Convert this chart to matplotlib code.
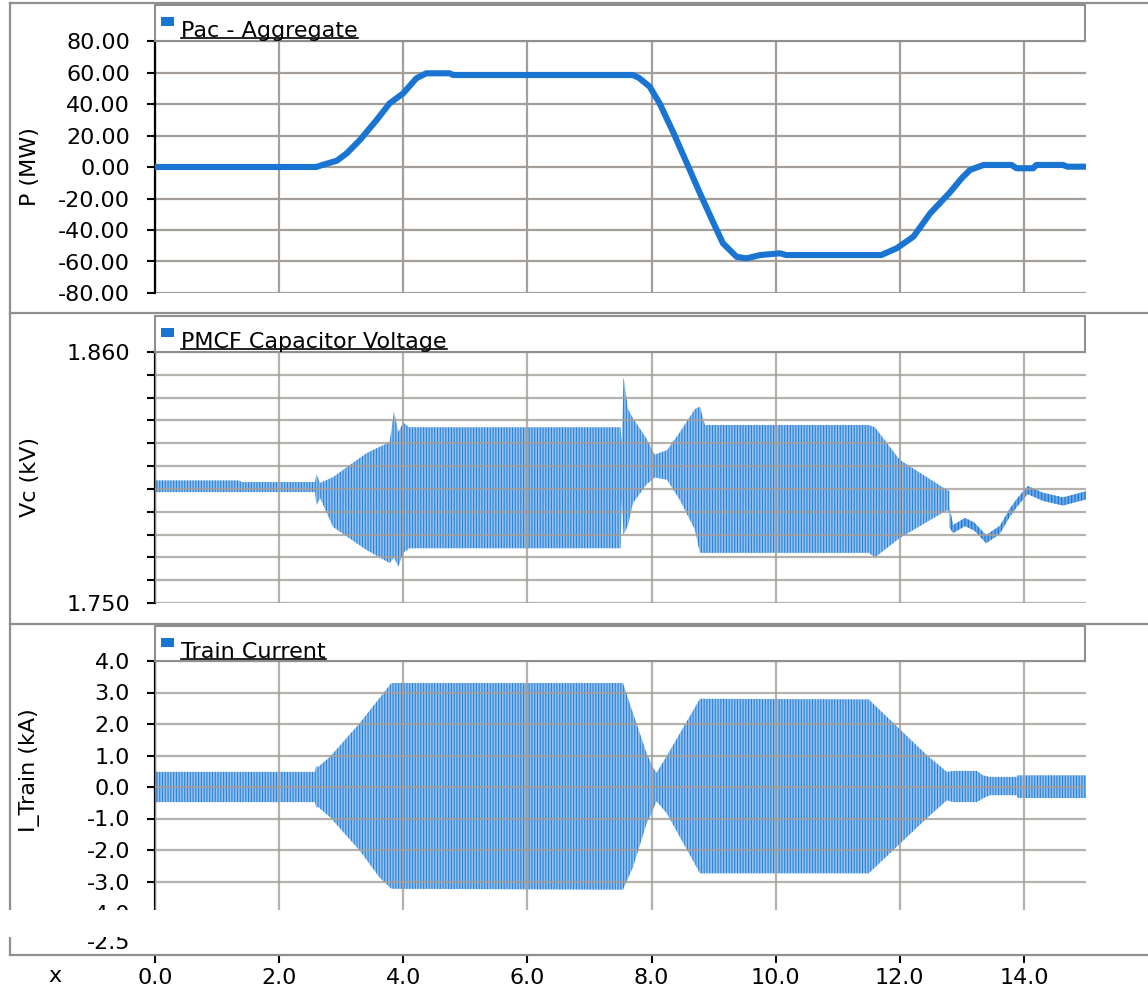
import matplotlib
matplotlib.use("Agg")
import matplotlib.pyplot as plt
from matplotlib.lines import Line2D
from matplotlib.patches import Rectangle

plt.rcParams['font.family'] = ['DejaVu Sans']
plt.rcParams['hatch.linewidth'] = 0.8

# ---------------- data ----------------
pac_t = [0.0, 2.60, 2.68, 2.93, 3.09, 3.30, 3.57, 3.78, 4.00, 4.21, 4.37, 4.75, 4.80,
         7.70, 7.80, 7.97, 8.13, 8.35, 8.57, 8.78, 9.00, 9.15, 9.37, 9.53, 9.75,
         10.07, 10.17, 11.70, 11.95, 12.22, 12.49, 12.81, 13.00, 13.13, 13.35,
         13.80, 13.88, 14.15, 14.20, 14.63, 14.70, 15.0]
pac_p = [0.0, 0.0, 1.1, 4.0, 8.7, 17.1, 29.8, 40.4, 46.8, 56.3, 59.5, 59.5, 58.4,
         58.4, 56.5, 51.0, 40.4, 22.0, 2.3, -16.7, -35.7, -48.4, -57.0, -58.0, -55.9,
         -54.8, -55.9, -55.9, -51.6, -44.2, -29.4, -16.0, -7.0, -1.9, 1.3,
         1.3, -0.8, -0.8, 1.3, 1.3, 0.2, 0.2]

vc_t = [0.0, 1.35, 1.40, 2.58, 2.60, 2.66, 2.87, 3.41, 3.78, 3.85, 3.92, 4.00, 4.10,
        7.50, 7.52, 7.55, 7.62, 7.70, 7.92, 8.05, 8.25, 8.46, 8.70, 8.78, 8.86,
        11.50, 11.60, 12.00, 12.76, 12.80]
vc_hi = [1.8037, 1.8037, 1.8030, 1.8030, 1.8065, 1.8026, 1.8052, 1.8157, 1.8205, 1.8340,
         1.8250, 1.8290, 1.8270, 1.8270, 1.8200, 1.8490, 1.8350, 1.8310, 1.8220, 1.8150,
         1.8170, 1.8250, 1.8350, 1.8360, 1.8280, 1.8280, 1.8270, 1.8127, 1.7995, 1.7990]
vc_lo = [1.7986, 1.7986, 1.7986, 1.7986, 1.7927, 1.7960, 1.7833, 1.7732, 1.7675, 1.7700,
         1.7660, 1.7720, 1.7740, 1.7740, 1.7950, 1.7800, 1.7840, 1.7937, 1.8020, 1.8050,
         1.8040, 1.7950, 1.7820, 1.7720, 1.7720, 1.7720, 1.7700, 1.7785, 1.7907, 1.7900]

vc_tail_t = [12.80, 12.86, 13.05, 13.20, 13.39, 13.61, 13.77, 13.89, 14.06, 14.31, 14.63, 15.0]
vc_tail_hi = [1.7920, 1.7842, 1.7873, 1.7853, 1.7798, 1.7838, 1.7913, 1.7958, 1.8013, 1.7983, 1.7963, 1.7990]
vc_tail_lo = [1.7830, 1.7806, 1.7837, 1.7817, 1.7762, 1.7802, 1.7877, 1.7922, 1.7977, 1.7947, 1.7927, 1.7954]

it_t = [0.0, 2.58, 2.60, 2.62, 2.82, 3.30, 3.62, 3.81, 7.54, 7.70, 7.92, 8.02, 8.08,
        8.25, 8.78, 11.50, 12.43, 12.76, 12.86, 13.24, 13.34, 13.45, 13.88, 13.90, 15.0]
it_hi = [0.48, 0.48, 0.70, 0.62, 0.96, 2.03, 2.83, 3.30, 3.30, 2.35, 1.07, 0.63, 0.45,
         1.00, 2.80, 2.78, 1.02, 0.48, 0.51, 0.51, 0.37, 0.32, 0.32, 0.37, 0.37]
it_lo = [-0.48, -0.48, -0.68, -0.62, -0.96, -2.02, -2.88, -3.23, -3.26, -2.55, -1.16, -0.74, -0.45,
         -0.85, -2.74, -2.74, -1.00, -0.42, -0.48, -0.48, -0.36, -0.26, -0.26, -0.35, -0.35]

x_ticks = [0, 2, 4, 6, 8, 10, 12, 14]
x_labels = ["0.0", "2.0", "4.0", "6.0", "8.0", "10.0", "12.0", "14.0"]
p_ticks = [80, 60, 40, 20, 0, -20, -40, -60, -80]
p_labels = ["80.00", "60.00", "40.00", "20.00", "0.00", "-20.00", "-40.00", "-60.00", "-80.00"]
vc_ticks = [1.75, 1.76, 1.77, 1.78, 1.79, 1.80, 1.81, 1.82, 1.83, 1.84, 1.85, 1.86]
vc_labels = ["1.750", "", "", "", "", "", "", "", "", "", "", "1.860"]
it_ticks = [4, 3, 2, 1, 0, -1, -2, -3, -4]
it_labels = ["4.0", "3.0", "2.0", "1.0", "0.0", "-1.0", "-2.0", "-3.0", "-4.0"]

titles = ["Pac - Aggregate", "PMCF Capacitor Voltage", "Train Current"]
ylabels = ["P (MW)", "Vc (kV)", "I_Train (kA)"]

# ---------------- layout ----------------
W, H = 1148, 996
fig = plt.figure(figsize=(W / 100, H / 100), dpi=100)

def fx(px):
    return px / W

def fy(py):
    return 1 - py / H

LINE_BLUE = '#1a74d2'
FILL_BLUE = '#93c2ef'
HATCH_BLUE = '#2a7fd8'
GRID = '#a39e99'
BOX = '#8f8f8f'
FS = 16
TFS = 16

X0, X1 = 155, 1086
panels = [(41, 293, 5), (352, 603, 316), (661, 913, 626)]
ylab_y = [167, 477, 770]

axes = []
headers = []
for i, (top, bot, htop) in enumerate(panels):
    ax = fig.add_axes([fx(X0), fy(bot), (X1 - X0) / W, (bot - top) / H])
    ax.set_xlim(0, 15)
    ax.set_xticks(x_ticks)
    ax.tick_params(axis='x', length=0, labelbottom=False)
    ax.tick_params(axis='y', direction='out', length=6, width=1.5, color='black',
                   labelsize=FS, pad=12)
    for s in ['top', 'right', 'bottom']:
        ax.spines[s].set_visible(False)
    ax.spines['left'].set_linewidth(1.6)
    ax.spines['left'].set_color('black')
    ax.grid(True, color=GRID, linewidth=1.6)
    axes.append(ax)
    fig.text(fx(30), fy(ylab_y[i]), ylabels[i], rotation=90, ha='center', va='center',
             fontsize=FS)

    hax = fig.add_axes([fx(X0), fy(top), (1085 - X0) / W, (top - htop) / H])
    hax.set_xticks([])
    hax.set_yticks([])
    for s in hax.spines.values():
        s.set_color(BOX)
        s.set_linewidth(1.5)
    hax.set_xlim(0, 1085 - X0)
    hax.set_ylim(top, htop)  # pixel coords, y downward
    hax.add_patch(Rectangle((161 - X0, htop + 12), 13, 9, color=LINE_BLUE, lw=0))
    headers.append(hax)

# panel 1: Pac
ax1, ax2, ax3 = axes
ax1.set_axisbelow(True)
ax1.plot(pac_t, pac_p, color=LINE_BLUE, linewidth=4.4, solid_capstyle='butt',
         solid_joinstyle='round', zorder=3)
ax1.set_ylim(-80, 80)
ax1.set_yticks(p_ticks, p_labels)

# panel 2: capacitor voltage
ax2.set_axisbelow(False)
ax2.fill_between(vc_t, vc_lo, vc_hi, facecolor=FILL_BLUE, edgecolor=HATCH_BLUE,
                 hatch='||||||', linewidth=0, zorder=1)
ax2.fill_between(vc_tail_t, vc_tail_lo, vc_tail_hi, facecolor='#6aa8e8', edgecolor=LINE_BLUE,
                 hatch='|||||', linewidth=0, zorder=1)
ax2.set_ylim(1.75, 1.86)
ax2.set_yticks(vc_ticks, vc_labels)

# panel 3: train current
ax3.set_axisbelow(False)
ax3.fill_between(it_t, it_lo, it_hi, facecolor=FILL_BLUE, edgecolor=HATCH_BLUE,
                 hatch='||||||', linewidth=0, zorder=1)
ax3.set_ylim(-4, 4)
ax3.set_yticks(it_ticks, it_labels)

for ax in (ax2, ax3):
    for gl in ax.get_xgridlines() + ax.get_ygridlines():
        gl.set_alpha(0.8)

# header titles (clipped at the plot top like the reference)
title_objs = []
for i, hax in enumerate(headers):
    top, bot, htop = panels[i]
    t = hax.text(181 - X0, htop + 32, titles[i], fontsize=TFS, ha='left', va='baseline',
                 clip_on=True)
    title_objs.append((t, htop))

# x axis at the bottom
axx = fig.add_axes([fx(X0), fy(955), (X1 - X0) / W, 0.0005])
axx.set_xlim(0, 15)
axx.set_yticks([])
for s in ['top', 'right', 'left', 'bottom']:
    axx.spines[s].set_visible(False)
axx.set_xticks(x_ticks, x_labels)
axx.tick_params(axis='x', direction='out', length=6, width=1.5, color='black',
                labelsize=FS, pad=3)
axx.patch.set_alpha(0)
fig.text(fx(55), fy(976), "x", ha='center', va='center', fontsize=FS)

# outer frame lines
def hline(y, x0=10, x1=W, z=30):
    fig.add_artist(Line2D([fx(x0), fx(x1)], [fy(y), fy(y)], color=BOX, lw=1.6,
                          transform=fig.transFigure, zorder=z))

hline(3)
hline(313)
hline(624)
hline(955)
fig.add_artist(Line2D([fx(10), fx(10)], [fy(3), fy(955)], color=BOX, lw=1.6,
                      transform=fig.transFigure, zorder=30))

# clipped artefact label and white band
fig.text(fx(130), fy(949), "-2.5", ha='right', va='baseline', fontsize=FS, zorder=40)
fig.add_artist(Rectangle((0, fy(937)), 1, (937 - 910) / H, transform=fig.transFigure,
                         facecolor='white', edgecolor='none', zorder=50))

# underline titles
fig.canvas.draw()
r = fig.canvas.get_renderer()
for t, htop in title_objs:
    bb = t.get_window_extent(renderer=r)
    y = htop + 33
    fig.add_artist(Line2D([bb.x0 / fig.bbox.width, bb.x1 / fig.bbox.width], [fy(y), fy(y)],
                          color='black', lw=1.2, transform=fig.transFigure, zorder=35))

fig.savefig("out.png", dpi=100)
